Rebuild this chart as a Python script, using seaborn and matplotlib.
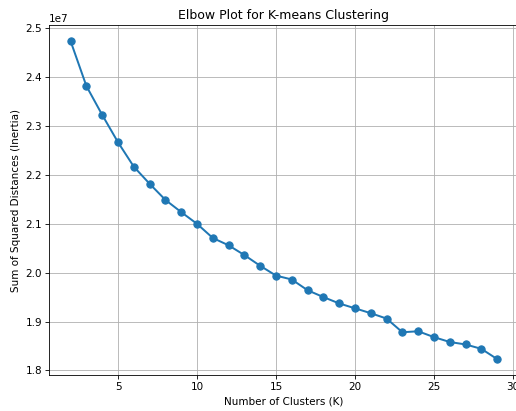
import numpy as np
import pandas as pd
import matplotlib
matplotlib.use("Agg")
import matplotlib.pyplot as plt
import seaborn as sns

# cluster counts and inertia values
k_values = list(range(2, 30))
inertia = [2.474, 2.382, 2.323, 2.267, 2.217, 2.182, 2.149, 2.124, 2.100,
           2.071, 2.056, 2.036, 2.014, 1.994, 1.986, 1.964, 1.950, 1.937,
           1.927, 1.917, 1.906, 1.878, 1.880, 1.868, 1.858, 1.853, 1.844,
           1.823]
inertia = [v * 1e7 for v in inertia]

DPI = 75


def elbow_plot(df: pd.DataFrame):
    fig = plt.figure(figsize=(516 / DPI, 411 / DPI), dpi=DPI)
    # axes run slightly past the right edge, as in the reference crop
    ax = fig.add_axes([49.3 / 516, 36 / 411, 469.2 / 516, 349.7 / 411])
    sns.lineplot(df, x="K", y="Inertia", marker="o", color="#1f77b4",
                 linewidth=1.9, markersize=7, markeredgecolor="#1f77b4",
                 markeredgewidth=1, ax=ax)
    ax.set_title("Elbow Plot for K-means Clustering")
    ax.set_xlabel("Number of Clusters (K)")
    ax.set_ylabel("Sum of Squared Distances (Inertia)")
    ax.grid(True)
    fig.savefig("out.png", dpi=DPI)
    plt.close(fig)


def main():
    df = pd.DataFrame({"K": k_values, "Inertia": inertia})
    elbow_plot(df)


if __name__ == "__main__":
    main()
